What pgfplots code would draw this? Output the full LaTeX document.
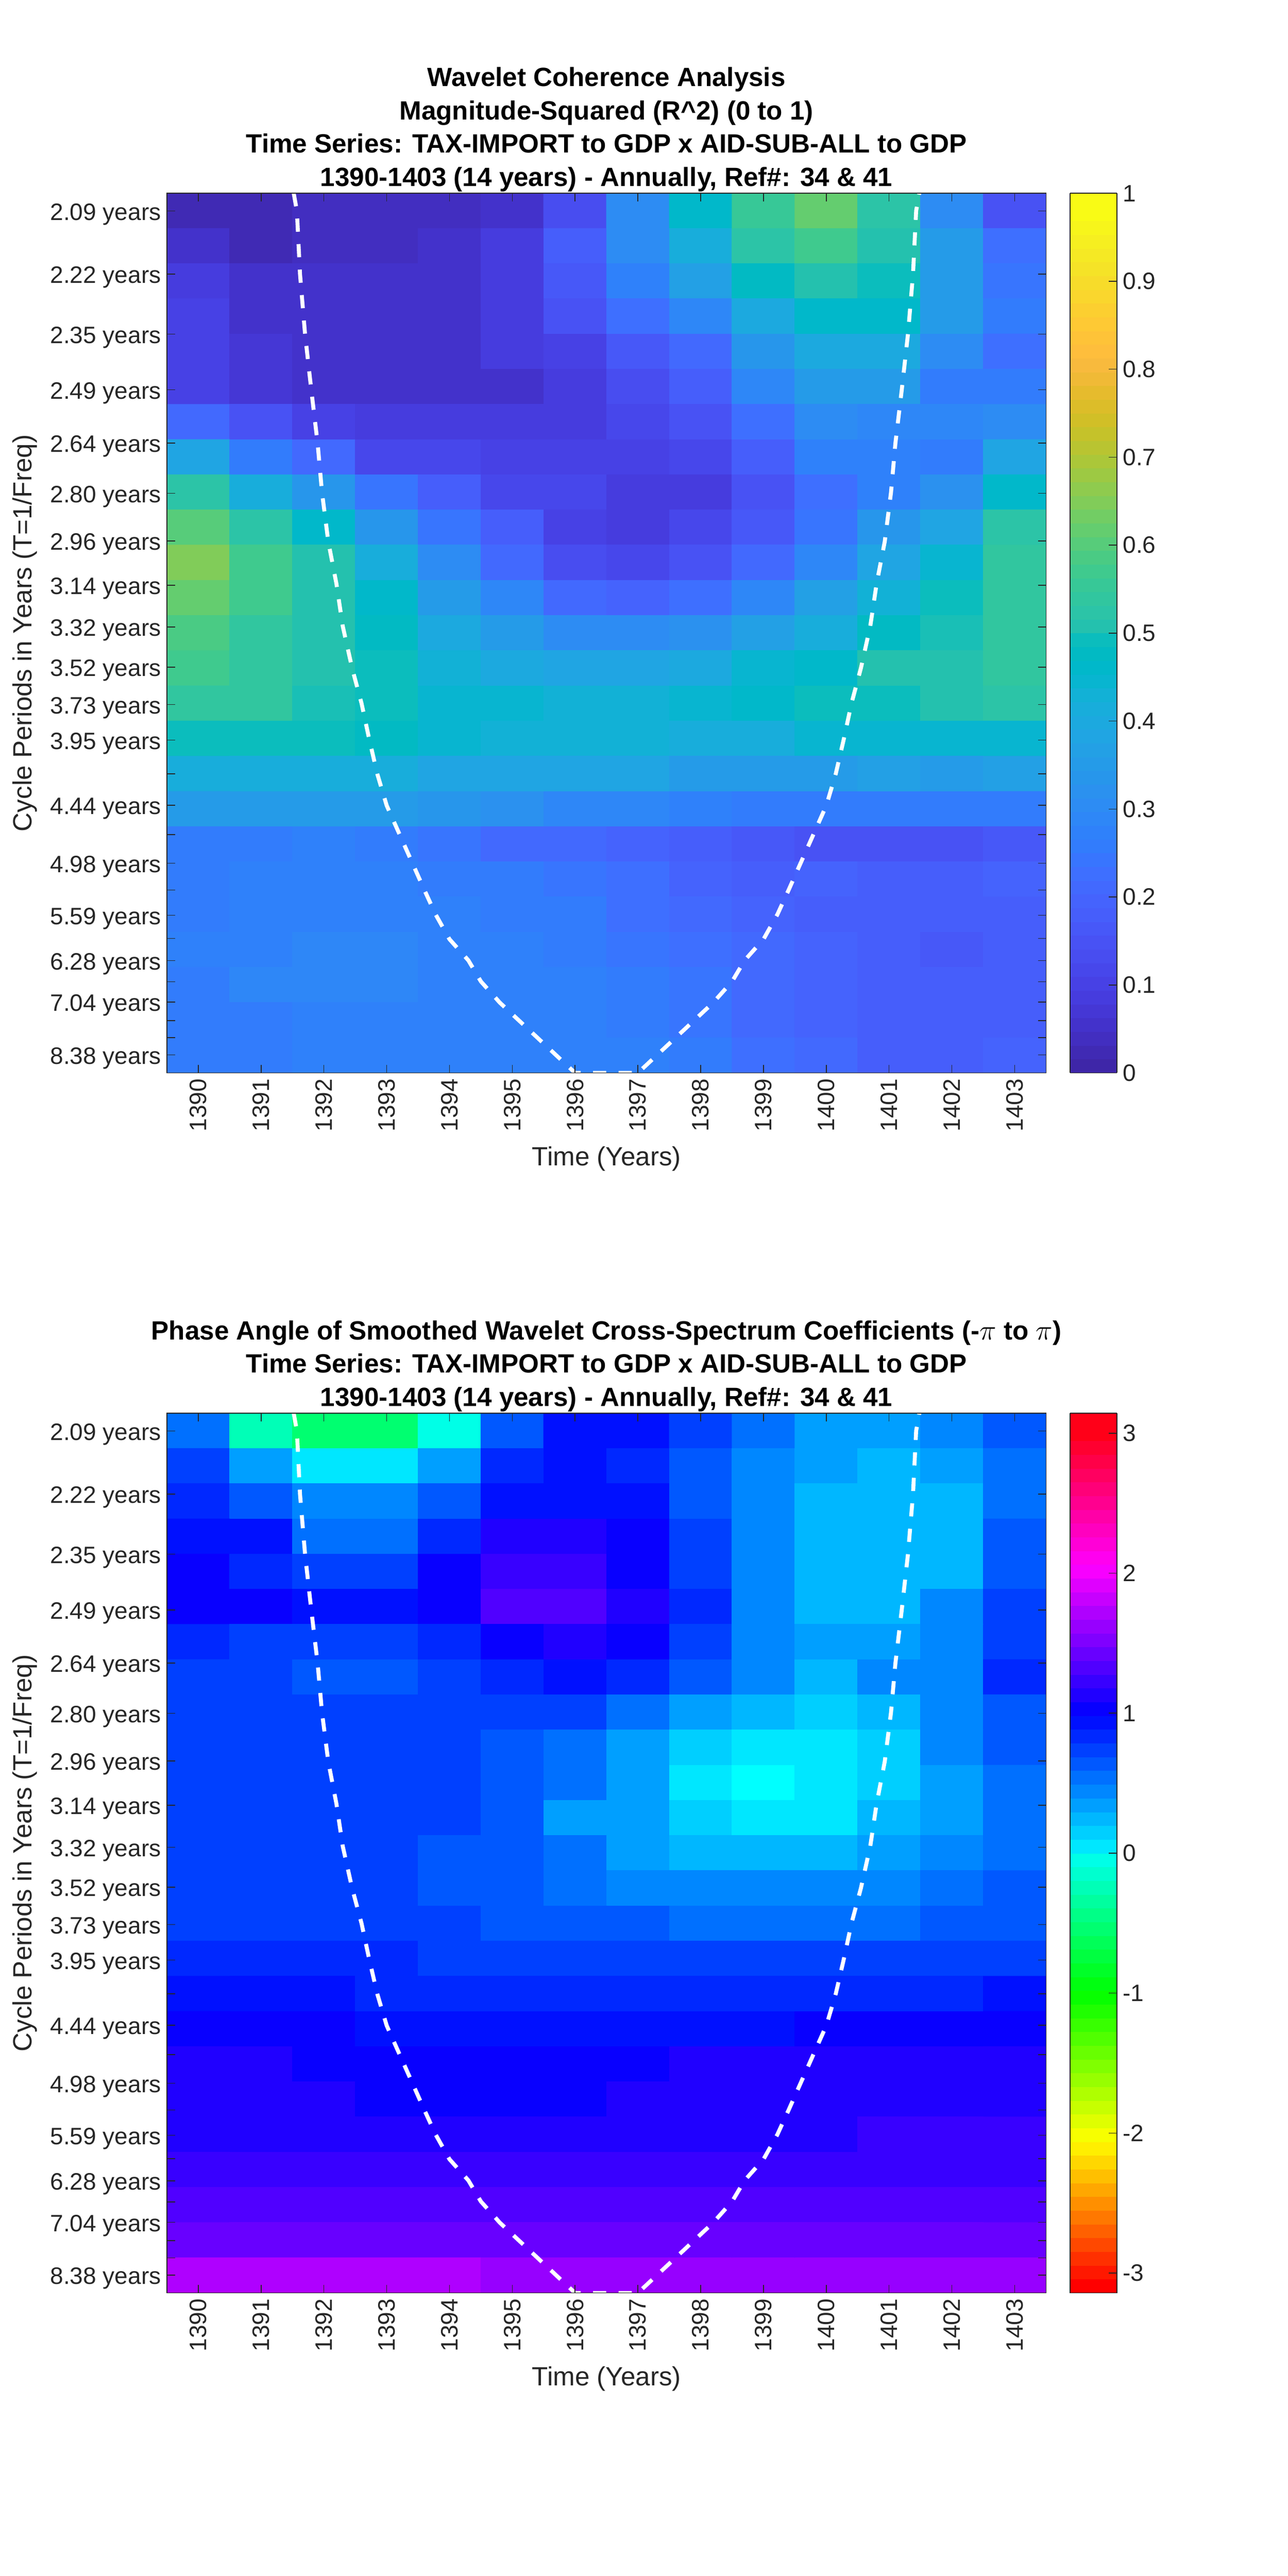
\documentclass[border=0pt]{standalone}
\usepackage{pgfplots}
\usepackage{fontspec}
\setmainfont{Liberation Sans}
\pgfplotsset{compat=1.18}

\definecolor{axgray}{gray}{0.15}

% parula, 64 levels, last one repeated for piecewise constant access
\pgfplotsset{colormap={par64}{
rgb=(0.2422,0.1504,0.6603) rgb=(0.2504,0.1650,0.7076) rgb=(0.2578,0.1818,0.7511) rgb=(0.2647,0.1978,0.7952)
rgb=(0.2706,0.2147,0.8364) rgb=(0.2751,0.2342,0.8710) rgb=(0.2783,0.2559,0.8991) rgb=(0.2803,0.2782,0.9221)
rgb=(0.2813,0.3006,0.9414) rgb=(0.2810,0.3228,0.9579) rgb=(0.2795,0.3447,0.9717) rgb=(0.2760,0.3667,0.9829)
rgb=(0.2699,0.3892,0.9906) rgb=(0.2602,0.4123,0.9952) rgb=(0.2440,0.4358,0.9988) rgb=(0.2206,0.4603,0.9973)
rgb=(0.1963,0.4847,0.9892) rgb=(0.1834,0.5074,0.9798) rgb=(0.1786,0.5289,0.9682) rgb=(0.1764,0.5499,0.9520)
rgb=(0.1687,0.5703,0.9359) rgb=(0.1540,0.5902,0.9218) rgb=(0.1460,0.6091,0.9079) rgb=(0.1380,0.6276,0.8973)
rgb=(0.1248,0.6459,0.8883) rgb=(0.1113,0.6635,0.8763) rgb=(0.0952,0.6798,0.8598) rgb=(0.0689,0.6948,0.8394)
rgb=(0.0297,0.7082,0.8163) rgb=(0.0036,0.7203,0.7917) rgb=(0.0067,0.7312,0.7660) rgb=(0.0433,0.7411,0.7394)
rgb=(0.0964,0.7500,0.7120) rgb=(0.1408,0.7584,0.6842) rgb=(0.1717,0.7670,0.6554) rgb=(0.1938,0.7758,0.6251)
rgb=(0.2161,0.7843,0.5923) rgb=(0.2470,0.7918,0.5567) rgb=(0.2906,0.7973,0.5188) rgb=(0.3406,0.8008,0.4789)
rgb=(0.3909,0.8029,0.4354) rgb=(0.4456,0.8024,0.3909) rgb=(0.5044,0.7993,0.3480) rgb=(0.5616,0.7942,0.3045)
rgb=(0.6174,0.7876,0.2612) rgb=(0.6720,0.7793,0.2227) rgb=(0.7242,0.7698,0.1910) rgb=(0.7738,0.7598,0.1646)
rgb=(0.8203,0.7498,0.1535) rgb=(0.8634,0.7406,0.1596) rgb=(0.9035,0.7330,0.1774) rgb=(0.9393,0.7288,0.2100)
rgb=(0.9728,0.7298,0.2394) rgb=(0.9956,0.7434,0.2371) rgb=(0.9970,0.7659,0.2199) rgb=(0.9952,0.7893,0.2028)
rgb=(0.9892,0.8136,0.1885) rgb=(0.9786,0.8386,0.1766) rgb=(0.9676,0.8639,0.1643) rgb=(0.9610,0.8890,0.1537)
rgb=(0.9597,0.9135,0.1423) rgb=(0.9628,0.9373,0.1265) rgb=(0.9691,0.9606,0.1064) rgb=(0.9769,0.9839,0.0805)
rgb=(0.9769,0.9839,0.0805)}}

% hsv, 64 levels
\pgfplotsset{colormap={hsv64}{
rgb=(1,0,0) rgb=(1,.094,0) rgb=(1,.1875,0) rgb=(1,.281,0) rgb=(1,.375,0) rgb=(1,.469,0) rgb=(1,.5625,0) rgb=(1,.656,0)
rgb=(1,.75,0) rgb=(1,.844,0) rgb=(1,.9375,0) rgb=(.969,1,0) rgb=(.875,1,0) rgb=(.781,1,0) rgb=(.6875,1,0) rgb=(.594,1,0)
rgb=(.5,1,0) rgb=(.406,1,0) rgb=(.3125,1,0) rgb=(.219,1,0) rgb=(.125,1,0) rgb=(.031,1,0) rgb=(0,1,.0625) rgb=(0,1,.156)
rgb=(0,1,.25) rgb=(0,1,.344) rgb=(0,1,.4375) rgb=(0,1,.531) rgb=(0,1,.625) rgb=(0,1,.719) rgb=(0,1,.8125) rgb=(0,1,.906)
rgb=(0,1,1) rgb=(0,.906,1) rgb=(0,.8125,1) rgb=(0,.719,1) rgb=(0,.625,1) rgb=(0,.531,1) rgb=(0,.4375,1) rgb=(0,.344,1)
rgb=(0,.25,1) rgb=(0,.156,1) rgb=(0,.0625,1) rgb=(.031,0,1) rgb=(.125,0,1) rgb=(.219,0,1) rgb=(.3125,0,1) rgb=(.406,0,1)
rgb=(.5,0,1) rgb=(.594,0,1) rgb=(.6875,0,1) rgb=(.781,0,1) rgb=(.875,0,1) rgb=(.969,0,1) rgb=(1,0,.9375) rgb=(1,0,.844)
rgb=(1,0,.75) rgb=(1,0,.656) rgb=(1,0,.5625) rgb=(1,0,.469) rgb=(1,0,.375) rgb=(1,0,.281) rgb=(1,0,.1875) rgb=(1,0,.094)
rgb=(1,0,.094)}}

\pgfplotsset{
  wavelet/.style={
    scale only axis, width=533.5bp, height=533.7bp,
    xmin=1389.5, xmax=1403.5, ymin=0.5, ymax=25.5,
    y dir=reverse, axis on top,
    tick align=inside, xtick pos=both, ytick pos=both,
    major tick length=5bp,
    axis line style={draw=axgray, line width=0.5bp},
    tick style={draw=axgray, line width=0.5bp},
    every tick label/.append style={text=axgray, font=\fontsize{14.4bp}{17bp}\selectfont},
    xtick={1390,...,1403},
    xticklabels={1390,1391,1392,1393,1394,1395,1396,1397,1398,1399,1400,1401,1402,1403},
    xticklabel style={rotate=90, anchor=east},
    yticklabel style={yshift=-2bp},
    ytick={1.00,2.795,4.50,6.085,7.596,9.025,10.383,11.636,12.83,13.966,15.03,16.04,17.00,17.89,18.73,19.54,20.30,21.02,21.68,22.31,22.91,23.49,24.01,24.5,24.99},
    yticklabels={2.09 years,2.22 years,2.35 years,2.49 years,2.64 years,2.80 years,2.96 years,3.14 years,3.32 years,3.52 years,3.73 years,3.95 years,,4.44 years,,4.98 years,,5.59 years,,6.28 years,,7.04 years,,,8.38 years},
    xlabel={Time (Years)}, ylabel={Cycle Periods in Years (T=1/Freq)},
    xlabel style={at={(axis description cs:0.5,-0.0974)}, anchor=center, text=axgray, font=\fontsize{16bp}{19bp}\selectfont},
    ylabel style={at={(axis description cs:-0.1617,0.5)}, anchor=center, text=axgray, font=\fontsize{16bp}{19bp}\selectfont},
    title style={at={(axis description cs:0.5,1)}, anchor=south, yshift=-8.5bp, align=center, text=black, font=\bfseries\fontsize{16bp}{20.2bp}\selectfont},
    point meta=explicit,
    colormap access=piecewise constant,
    colorbar, colorbar sampled,
    colorbar shift/.style={xshift=14.5bp},
  },
  cbstyle/.style={
    % the default anchor counts a wide title, so take the axis corner itself
    at={(parent axis.north east)}, anchor=north west,
    width=28.5bp, samples=65,
    ytick pos=right, tick align=inside, major tick length=5bp,
    axis line style={draw=axgray, line width=0.5bp},
    tick style={draw=axgray, line width=0.5bp},
    every tick label/.append style={text=axgray, font=\fontsize{14.4bp}{17bp}\selectfont},
  },
  coi/.style={white, line width=2.4bp, dash pattern=on 8bp off 7.5bp, forget plot},
}

\begin{document}
\begin{tikzpicture}
\path[use as bounding box] (0,0) rectangle (781.25bp,1563bp);

\begin{axis}[wavelet, at={(101.25bp,912bp)}, anchor=south west,
  colormap name=par64, point meta min=0, point meta max=1,
  colorbar style={cbstyle, ytick={0,0.1,...,1}, yticklabels={0,0.1,0.2,0.3,0.4,0.5,0.6,0.7,0.8,0.9,1}},
  title={Wavelet Coherence Analysis\\Magnitude-Squared (R\textasciicircum 2) (0 to 1)\\Time Series: TAX-IMPORT to GDP x AID-SUB-ALL to GDP\\1390-1403 (14 years) - Annually, Ref\#: 34 \& 41}]
\addplot[matrix plot*, mesh/cols=14] coordinates {
(1390,1)[.03] (1391,1)[.03] (1392,1)[.04] (1393,1)[.04] (1394,1)[.04] (1395,1)[.05] (1396,1)[.13] (1397,1)[.30] (1398,1)[.46] (1399,1)[.56] (1400,1)[.62] (1401,1)[.53] (1402,1)[.30] (1403,1)[.15]
(1390,2)[.05] (1391,2)[.03] (1392,2)[.04] (1393,2)[.04] (1394,2)[.05] (1395,2)[.08] (1396,2)[.17] (1397,2)[.30] (1398,2)[.41] (1399,2)[.53] (1400,2)[.58] (1401,2)[.52] (1402,2)[.35] (1403,2)[.22]
(1390,3)[.09] (1391,3)[.05] (1392,3)[.05] (1393,3)[.05] (1394,3)[.05] (1395,3)[.09] (1396,3)[.16] (1397,3)[.27] (1398,3)[.36] (1399,3)[.47] (1400,3)[.52] (1401,3)[.49] (1402,3)[.35] (1403,3)[.24]
(1390,4)[.10] (1391,4)[.06] (1392,4)[.05] (1393,4)[.05] (1394,4)[.05] (1395,4)[.08] (1396,4)[.15] (1397,4)[.22] (1398,4)[.29] (1399,4)[.39] (1400,4)[.46] (1401,4)[.45] (1402,4)[.35] (1403,4)[.25]
(1390,5)[.10] (1391,5)[.07] (1392,5)[.05] (1393,5)[.05] (1394,5)[.05] (1395,5)[.08] (1396,5)[.10] (1397,5)[.16] (1398,5)[.20] (1399,5)[.33] (1400,5)[.39] (1401,5)[.39] (1402,5)[.30] (1403,5)[.23]
(1390,6)[.10] (1391,6)[.07] (1392,6)[.05] (1393,6)[.05] (1394,6)[.05] (1395,6)[.06] (1396,6)[.09] (1397,6)[.13] (1398,6)[.18] (1399,6)[.28] (1400,6)[.34] (1401,6)[.35] (1402,6)[.26] (1403,6)[.25]
(1390,7)[.20] (1391,7)[.14] (1392,7)[.10] (1393,7)[.08] (1394,7)[.08] (1395,7)[.08] (1396,7)[.09] (1397,7)[.11] (1398,7)[.15] (1399,7)[.23] (1400,7)[.30] (1401,7)[.29] (1402,7)[.28] (1403,7)[.30]
(1390,8)[.37] (1391,8)[.26] (1392,8)[.20] (1393,8)[.12] (1394,8)[.11] (1395,8)[.10] (1396,8)[.10] (1397,8)[.10] (1398,8)[.12] (1399,8)[.18] (1400,8)[.27] (1401,8)[.27] (1402,8)[.25] (1403,8)[.38]
(1390,9)[.53] (1391,9)[.41] (1392,9)[.33] (1393,9)[.24] (1394,9)[.17] (1395,9)[.12] (1396,9)[.11] (1397,9)[.09] (1398,9)[.09] (1399,9)[.15] (1400,9)[.22] (1401,9)[.27] (1402,9)[.32] (1403,9)[.46]
(1390,10)[.60] (1391,10)[.53] (1392,10)[.45] (1393,10)[.33] (1394,10)[.24] (1395,10)[.17] (1396,10)[.10] (1397,10)[.09] (1398,10)[.12] (1399,10)[.16] (1400,10)[.24] (1401,10)[.33] (1402,10)[.38] (1403,10)[.53]
(1390,11)[.65] (1391,11)[.58] (1392,11)[.52] (1393,11)[.41] (1394,11)[.30] (1395,11)[.21] (1396,11)[.13] (1397,11)[.11] (1398,11)[.14] (1399,11)[.21] (1400,11)[.29] (1401,11)[.37] (1402,11)[.44] (1403,11)[.54]
(1390,12)[.62] (1391,12)[.58] (1392,12)[.52] (1393,12)[.46] (1394,12)[.35] (1395,12)[.29] (1396,12)[.21] (1397,12)[.19] (1398,12)[.22] (1399,12)[.29] (1400,12)[.36] (1401,12)[.42] (1402,12)[.48] (1403,12)[.54]
(1390,13)[.59] (1391,13)[.55] (1392,13)[.52] (1393,13)[.47] (1394,13)[.39] (1395,13)[.34] (1396,13)[.30] (1397,13)[.30] (1398,13)[.31] (1399,13)[.36] (1400,13)[.41] (1401,13)[.47] (1402,13)[.50] (1403,13)[.54]
(1390,14)[.57] (1391,14)[.55] (1392,14)[.52] (1393,14)[.48] (1394,14)[.43] (1395,14)[.39] (1396,14)[.38] (1397,14)[.38] (1398,14)[.39] (1399,14)[.44] (1400,14)[.46] (1401,14)[.51] (1402,14)[.52] (1403,14)[.54]
(1390,15)[.55] (1391,15)[.54] (1392,15)[.50] (1393,15)[.49] (1394,15)[.44] (1395,15)[.44] (1396,15)[.42] (1397,15)[.42] (1398,15)[.44] (1399,15)[.46] (1400,15)[.49] (1401,15)[.49] (1402,15)[.51] (1403,15)[.53]
(1390,16)[.48] (1391,16)[.48] (1392,16)[.48] (1393,16)[.47] (1394,16)[.44] (1395,16)[.42] (1396,16)[.42] (1397,16)[.42] (1398,16)[.41] (1399,16)[.41] (1400,16)[.44] (1401,16)[.44] (1402,16)[.44] (1403,16)[.44]
(1390,17)[.41] (1391,17)[.41] (1392,17)[.41] (1393,17)[.41] (1394,17)[.38] (1395,17)[.38] (1396,17)[.37] (1397,17)[.37] (1398,17)[.35] (1399,17)[.35] (1400,17)[.35] (1401,17)[.36] (1402,17)[.35] (1403,17)[.36]
(1390,18)[.35] (1391,18)[.35] (1392,18)[.34] (1393,18)[.34] (1394,18)[.33] (1395,18)[.31] (1396,18)[.28] (1397,18)[.28] (1398,18)[.27] (1399,18)[.26] (1400,18)[.26] (1401,18)[.26] (1402,18)[.26] (1403,18)[.26]
(1390,19)[.25] (1391,19)[.25] (1392,19)[.27] (1393,19)[.26] (1394,19)[.24] (1395,19)[.21] (1396,19)[.20] (1397,19)[.19] (1398,19)[.17] (1399,19)[.16] (1400,19)[.14] (1401,19)[.14] (1402,19)[.15] (1403,19)[.16]
(1390,20)[.26] (1391,20)[.27] (1392,20)[.27] (1393,20)[.27] (1394,20)[.26] (1395,20)[.25] (1396,20)[.24] (1397,20)[.23] (1398,20)[.19] (1399,20)[.18] (1400,20)[.19] (1401,20)[.18] (1402,20)[.18] (1403,20)[.19]
(1390,21)[.26] (1391,21)[.27] (1392,21)[.27] (1393,21)[.27] (1394,21)[.27] (1395,21)[.26] (1396,21)[.25] (1397,21)[.22] (1398,21)[.20] (1399,21)[.19] (1400,21)[.17] (1401,21)[.17] (1402,21)[.17] (1403,21)[.18]
(1390,22)[.27] (1391,22)[.27] (1392,22)[.29] (1393,22)[.29] (1394,22)[.27] (1395,22)[.27] (1396,22)[.26] (1397,22)[.24] (1398,22)[.22] (1399,22)[.20] (1400,22)[.19] (1401,22)[.17] (1402,22)[.16] (1403,22)[.18]
(1390,23)[.26] (1391,23)[.28] (1392,23)[.28] (1393,23)[.29] (1394,23)[.27] (1395,23)[.27] (1396,23)[.27] (1397,23)[.25] (1398,23)[.24] (1399,23)[.21] (1400,23)[.19] (1401,23)[.17] (1402,23)[.17] (1403,23)[.18]
(1390,24)[.26] (1391,24)[.26] (1392,24)[.27] (1393,24)[.27] (1394,24)[.27] (1395,24)[.27] (1396,24)[.27] (1397,24)[.25] (1398,24)[.24] (1399,24)[.21] (1400,24)[.19] (1401,24)[.17] (1402,24)[.17] (1403,24)[.18]
(1390,25)[.26] (1391,25)[.26] (1392,25)[.27] (1393,25)[.27] (1394,25)[.27] (1395,25)[.27] (1396,25)[.27] (1397,25)[.27] (1398,25)[.25] (1399,25)[.22] (1400,25)[.20] (1401,25)[.18] (1402,25)[.18] (1403,25)[.19]
};
\addplot[coi] coordinates {
(1391.52,0.5) (1391.57,1) (1391.62,2.8) (1391.70,4.5) (1391.80,6.1) (1391.90,7.6) (1391.97,9) (1392.07,10.4) (1392.20,11.6) (1392.30,12.8) (1392.45,14) (1392.60,15) (1392.72,16) (1392.85,17) (1393.00,17.9) (1393.20,18.7) (1393.40,19.5) (1393.60,20.3) (1393.78,21) (1394.00,21.7) (1394.30,22.3) (1394.50,22.9) (1394.80,23.5) (1395.10,24) (1395.40,24.5) (1396,25.5) (1397,25.5) (1397.60,24.5) (1397.90,24) (1398.20,23.5) (1398.50,22.9) (1398.70,22.3) (1399.00,21.7) (1399.22,21) (1399.40,20.3) (1399.60,19.5) (1399.80,18.7) (1400.00,17.9) (1400.15,17) (1400.28,16) (1400.40,15) (1400.55,14) (1400.70,12.8) (1400.80,11.6) (1400.93,10.4) (1401.03,9) (1401.10,7.6) (1401.20,6.1) (1401.30,4.5) (1401.38,2.8) (1401.43,1) (1401.48,0.5)
};
\end{axis}

\begin{axis}[wavelet, at={(101.25bp,171.75bp)}, anchor=south west,
  colormap name=hsv64, point meta min=-3.1416, point meta max=3.1416,
  colorbar style={cbstyle, ytick={-3,-2,-1,0,1,2,3}, yticklabels={-3,-2,-1,0,1,2,3}},
  title={Phase Angle of Smoothed Wavelet Cross-Spectrum Coefficients (-$\pi$ to $\pi$)\\Time Series: TAX-IMPORT to GDP x AID-SUB-ALL to GDP\\1390-1403 (14 years) - Annually, Ref\#: 34 \& 41}]
\addplot[matrix plot*, mesh/cols=14] coordinates {
(1390,1)[.60] (1391,1)[-.30] (1392,1)[-.58] (1393,1)[-.58] (1394,1)[-.10] (1395,1)[.70] (1396,1)[.98] (1397,1)[.98] (1398,1)[.78] (1399,1)[.60] (1400,1)[.43] (1401,1)[.43] (1402,1)[.52] (1403,1)[.68]
(1390,2)[.75] (1391,2)[.40] (1392,2)[.08] (1393,2)[.08] (1394,2)[.40] (1395,2)[.87] (1396,2)[.98] (1397,2)[.85] (1398,2)[.68] (1399,2)[.50] (1400,2)[.43] (1401,2)[.30] (1402,2)[.38] (1403,2)[.62]
(1390,3)[.88] (1391,3)[.65] (1392,3)[.45] (1393,3)[.45] (1394,3)[.65] (1395,3)[1.0] (1396,3)[1.0] (1397,3)[.97] (1398,3)[.68] (1399,3)[.50] (1400,3)[.28] (1401,3)[.28] (1402,3)[.33] (1403,3)[.60]
(1390,4)[1.0] (1391,4)[.93] (1392,4)[.62] (1393,4)[.62] (1394,4)[.85] (1395,4)[1.13] (1396,4)[1.13] (1397,4)[1.03] (1398,4)[.78] (1399,4)[.48] (1400,4)[.28] (1401,4)[.28] (1402,4)[.33] (1403,4)[.68]
(1390,5)[1.03] (1391,5)[.90] (1392,5)[.80] (1393,5)[.80] (1394,5)[1.03] (1395,5)[1.25] (1396,5)[1.25] (1397,5)[1.03] (1398,5)[.78] (1399,5)[.48] (1400,5)[.28] (1401,5)[.28] (1402,5)[.33] (1403,5)[.68]
(1390,6)[1.03] (1391,6)[1.03] (1392,6)[.92] (1393,6)[.92] (1394,6)[1.03] (1395,6)[1.37] (1396,6)[1.37] (1397,6)[1.18] (1398,6)[.88] (1399,6)[.50] (1400,6)[.28] (1401,6)[.28] (1402,6)[.50] (1403,6)[.80]
(1390,7)[.85] (1391,7)[.78] (1392,7)[.78] (1393,7)[.78] (1394,7)[.85] (1395,7)[1.03] (1396,7)[1.15] (1397,7)[1.03] (1398,7)[.78] (1399,7)[.50] (1400,7)[.42] (1401,7)[.42] (1402,7)[.50] (1403,7)[.80]
(1390,8)[.78] (1391,8)[.78] (1392,8)[.65] (1393,8)[.65] (1394,8)[.78] (1395,8)[.88] (1396,8)[1.0] (1397,8)[.88] (1398,8)[.63] (1399,8)[.45] (1400,8)[.33] (1401,8)[.50] (1402,8)[.50] (1403,8)[.85]
(1390,9)[.78] (1391,9)[.78] (1392,9)[.78] (1393,9)[.78] (1394,9)[.78] (1395,9)[.78] (1396,9)[.78] (1397,9)[.60] (1398,9)[.42] (1399,9)[.33] (1400,9)[.22] (1401,9)[.30] (1402,9)[.50] (1403,9)[.65]
(1390,10)[.78] (1391,10)[.78] (1392,10)[.78] (1393,10)[.78] (1394,10)[.78] (1395,10)[.65] (1396,10)[.55] (1397,10)[.42] (1398,10)[.22] (1399,10)[.10] (1400,10)[.10] (1401,10)[.20] (1402,10)[.50] (1403,10)[.65]
(1390,11)[.78] (1391,11)[.78] (1392,11)[.78] (1393,11)[.78] (1394,11)[.78] (1395,11)[.65] (1396,11)[.55] (1397,11)[.42] (1398,11)[.08] (1399,11)[.00] (1400,11)[.10] (1401,11)[.20] (1402,11)[.38] (1403,11)[.58]
(1390,12)[.78] (1391,12)[.78] (1392,12)[.78] (1393,12)[.78] (1394,12)[.78] (1395,12)[.65] (1396,12)[.42] (1397,12)[.40] (1398,12)[.20] (1399,12)[.10] (1400,12)[.10] (1401,12)[.28] (1402,12)[.38] (1403,12)[.58]
(1390,13)[.78] (1391,13)[.78] (1392,13)[.78] (1393,13)[.78] (1394,13)[.68] (1395,13)[.68] (1396,13)[.58] (1397,13)[.40] (1398,13)[.28] (1399,13)[.28] (1400,13)[.28] (1401,13)[.40] (1402,13)[.48] (1403,13)[.58]
(1390,14)[.78] (1391,14)[.78] (1392,14)[.78] (1393,14)[.78] (1394,14)[.68] (1395,14)[.68] (1396,14)[.58] (1397,14)[.48] (1398,14)[.48] (1399,14)[.48] (1400,14)[.48] (1401,14)[.48] (1402,14)[.60] (1403,14)[.68]
(1390,15)[.78] (1391,15)[.78] (1392,15)[.78] (1393,15)[.78] (1394,15)[.78] (1395,15)[.65] (1396,15)[.65] (1397,15)[.65] (1398,15)[.55] (1399,15)[.55] (1400,15)[.55] (1401,15)[.55] (1402,15)[.68] (1403,15)[.68]
(1390,16)[.88] (1391,16)[.88] (1392,16)[.88] (1393,16)[.88] (1394,16)[.78] (1395,16)[.78] (1396,16)[.78] (1397,16)[.78] (1398,16)[.78] (1399,16)[.78] (1400,16)[.78] (1401,16)[.78] (1402,16)[.78] (1403,16)[.78]
(1390,17)[.98] (1391,17)[.98] (1392,17)[.98] (1393,17)[.87] (1394,17)[.87] (1395,17)[.87] (1396,17)[.87] (1397,17)[.87] (1398,17)[.87] (1399,17)[.87] (1400,17)[.87] (1401,17)[.87] (1402,17)[.87] (1403,17)[.98]
(1390,18)[1.03] (1391,18)[1.03] (1392,18)[1.03] (1393,18)[.98] (1394,18)[.98] (1395,18)[.98] (1396,18)[.98] (1397,18)[.98] (1398,18)[.98] (1399,18)[.98] (1400,18)[1.03] (1401,18)[1.03] (1402,18)[1.03] (1403,18)[1.03]
(1390,19)[1.13] (1391,19)[1.13] (1392,19)[1.05] (1393,19)[1.05] (1394,19)[1.05] (1395,19)[1.05] (1396,19)[1.05] (1397,19)[1.05] (1398,19)[1.13] (1399,19)[1.13] (1400,19)[1.13] (1401,19)[1.13] (1402,19)[1.13] (1403,19)[1.13]
(1390,20)[1.13] (1391,20)[1.13] (1392,20)[1.13] (1393,20)[1.05] (1394,20)[1.05] (1395,20)[1.05] (1396,20)[1.05] (1397,20)[1.13] (1398,20)[1.13] (1399,20)[1.13] (1400,20)[1.13] (1401,20)[1.13] (1402,20)[1.13] (1403,20)[1.13]
(1390,21)[1.16] (1391,21)[1.16] (1392,21)[1.16] (1393,21)[1.16] (1394,21)[1.16] (1395,21)[1.16] (1396,21)[1.16] (1397,21)[1.16] (1398,21)[1.16] (1399,21)[1.16] (1400,21)[1.16] (1401,21)[1.24] (1402,21)[1.24] (1403,21)[1.24]
(1390,22)[1.25] (1391,22)[1.25] (1392,22)[1.25] (1393,22)[1.25] (1394,22)[1.25] (1395,22)[1.25] (1396,22)[1.25] (1397,22)[1.25] (1398,22)[1.25] (1399,22)[1.25] (1400,22)[1.25] (1401,22)[1.25] (1402,22)[1.25] (1403,22)[1.25]
(1390,23)[1.36] (1391,23)[1.36] (1392,23)[1.36] (1393,23)[1.36] (1394,23)[1.36] (1395,23)[1.36] (1396,23)[1.36] (1397,23)[1.36] (1398,23)[1.36] (1399,23)[1.36] (1400,23)[1.36] (1401,23)[1.36] (1402,23)[1.36] (1403,23)[1.36]
(1390,24)[1.48] (1391,24)[1.48] (1392,24)[1.48] (1393,24)[1.48] (1394,24)[1.48] (1395,24)[1.48] (1396,24)[1.48] (1397,24)[1.48] (1398,24)[1.48] (1399,24)[1.48] (1400,24)[1.48] (1401,24)[1.48] (1402,24)[1.48] (1403,24)[1.48]
(1390,25)[1.77] (1391,25)[1.77] (1392,25)[1.77] (1393,25)[1.77] (1394,25)[1.77] (1395,25)[1.67] (1396,25)[1.67] (1397,25)[1.67] (1398,25)[1.67] (1399,25)[1.67] (1400,25)[1.67] (1401,25)[1.67] (1402,25)[1.67] (1403,25)[1.67]
};
\addplot[coi] coordinates {
(1391.52,0.5) (1391.57,1) (1391.62,2.8) (1391.70,4.5) (1391.80,6.1) (1391.90,7.6) (1391.97,9) (1392.07,10.4) (1392.20,11.6) (1392.30,12.8) (1392.45,14) (1392.60,15) (1392.72,16) (1392.85,17) (1393.00,17.9) (1393.20,18.7) (1393.40,19.5) (1393.60,20.3) (1393.78,21) (1394.00,21.7) (1394.30,22.3) (1394.50,22.9) (1394.80,23.5) (1395.10,24) (1395.40,24.5) (1396,25.5) (1397,25.5) (1397.60,24.5) (1397.90,24) (1398.20,23.5) (1398.50,22.9) (1398.70,22.3) (1399.00,21.7) (1399.22,21) (1399.40,20.3) (1399.60,19.5) (1399.80,18.7) (1400.00,17.9) (1400.15,17) (1400.28,16) (1400.40,15) (1400.55,14) (1400.70,12.8) (1400.80,11.6) (1400.93,10.4) (1401.03,9) (1401.10,7.6) (1401.20,6.1) (1401.30,4.5) (1401.38,2.8) (1401.43,1) (1401.48,0.5)
};
\end{axis}
\end{tikzpicture}
\end{document}
